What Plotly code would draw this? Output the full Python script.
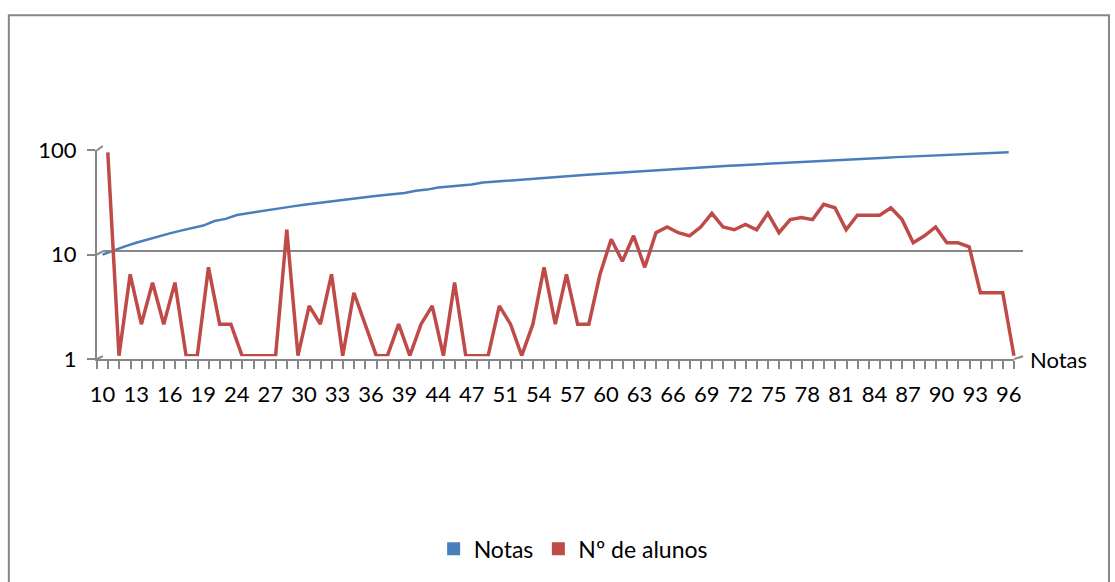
import plotly.graph_objects as go

# ---------------- data ----------------
notas = [10, 11, 12, 13, 14, 15, 16, 17, 18, 19, 21, 22, 24, 25, 26, 27, 28, 29,
         30, 31, 32, 33, 34, 35, 36, 37, 38, 39, 41, 42, 44, 45, 46, 47, 49, 50,
         51, 52, 53, 54, 55, 56, 57, 58, 59, 60, 61, 62, 63, 64, 65, 66, 67, 68,
         69, 70, 71, 72, 73, 74, 75, 76, 77, 78, 79, 80, 81, 82, 83, 84, 85, 86,
         87, 88, 89, 90, 91, 92, 93, 94, 95, 96]
alunos = [88, 1, 6, 2, 5, 2, 5, 1, 1, 7, 2, 2, 1, 1, 1, 1, 16, 1,
          3, 2, 6, 1, 4, 2, 1, 1, 2, 1, 2, 3, 1, 5, 1, 1, 1, 3,
          2, 1, 2, 7, 2, 6, 2, 2, 6, 13, 8, 14, 7, 15, 17, 15, 14, 17,
          23, 17, 16, 18, 16, 23, 15, 20, 21, 20, 28, 26, 16, 22, 22, 22, 26, 20,
          12, 14, 17, 12, 12, 11, 4, 4, 4, 1]
shown_x_labels = ["10", "13", "16", "19", "24", "27", "30", "33", "36", "39", "44",
                  "47", "51", "54", "57", "60", "63", "66", "69", "72", "75", "78",
                  "81", "84", "87", "90", "93", "96"]
y_ticks = [1, 10, 100]
y_tick_labels = ["1", "10", "100"]

categories = [str(n) for n in notas]
ticktext = [c if c in shown_x_labels else "" for c in categories]
n = len(categories)

# ---------------- style ----------------
BLUE = "#4A7EBB"
RED = "#BE4B48"
GRAY = "#878787"
FONT = dict(family="Lato, 'Open Sans', sans-serif", size=22, color="#000000")
LEG_FONT = dict(family="Lato, 'Open Sans', sans-serif", size=23, color="#000000")

W, H = 1115, 582
L, R = 96.7, 1023.0          # pixel extent of the paper area
T, B = 145.7, 359.5
pw, ph = R - L, B - T


def px2x(px):
    return (px - L) / pw


def py2y(py):
    return (B - py) / ph


fig = go.Figure()

# red series (back row of the 3-D chart)
fig.add_trace(go.Scatter(x=categories, y=alunos, xaxis="x2", yaxis="y",
                         mode="lines", line=dict(color=RED, width=3.5),
                         name="Nº de alunos", showlegend=False))
# blue series (front row)
fig.add_trace(go.Scatter(x=categories, y=notas, xaxis="x", yaxis="y2",
                         mode="lines", line=dict(color=BLUE, width=2.5),
                         name="Notas", showlegend=False))
# legend entries (square keys)
fig.add_trace(go.Scatter(x=[None], y=[None], xaxis="x", yaxis="y2", mode="markers",
                         marker=dict(symbol="square", size=13, color=BLUE), name="Notas"))
fig.add_trace(go.Scatter(x=[None], y=[None], xaxis="x", yaxis="y2", mode="markers",
                         marker=dict(symbol="square", size=13, color=RED), name="Nº de alunos"))

shapes = []
# wall corner diagonals
for v, lv in ((1, 0), (10, 1), (100, 2)):
    fy = B - 104.75 * lv
    by = 356.7 - 105.5 * lv
    shapes.append(dict(type="line", xref="paper", yref="paper",
                       x0=px2x(96.7), y0=py2y(fy), x1=px2x(102.5), y1=py2y(by),
                       line=dict(color=GRAY, width=2)))
shapes.append(dict(type="line", xref="paper", yref="paper",
                   x0=px2x(1014.3), y0=py2y(359.5), x1=px2x(1023), y1=py2y(356.7),
                   line=dict(color=GRAY, width=2)))
# chart border
shapes.append(dict(type="rect", xref="paper", yref="paper",
                   x0=px2x(8.5), y0=py2y(600), x1=px2x(1109), y1=py2y(14.5),
                   line=dict(color=GRAY, width=2), fillcolor="rgba(0,0,0,0)"))

fig.update_layout(
    width=W, height=H,
    margin=dict(l=L, r=W - R, t=T, b=H - B, autoexpand=False),
    paper_bgcolor="white", plot_bgcolor="rgba(0,0,0,0)",
    font=FONT,
    xaxis=dict(domain=[0, px2x(1014.3)], anchor="y2", type="category",
               categoryorder="array", categoryarray=categories,
               range=[-0.5, n - 0.5], tickmode="array", tickvals=categories,
               ticktext=ticktext, tickson="boundaries", ticks="outside",
               ticklen=8, tickwidth=2, tickcolor=GRAY, showline=True,
               linecolor=GRAY, linewidth=2, showgrid=False, zeroline=False,
               tickangle=0, tickfont=FONT, ticklabelstandoff=15),
    xaxis2=dict(domain=[px2x(102.5), 1], anchor="y", type="category",
                categoryorder="array", categoryarray=categories,
                range=[-0.447, n - 0.19], visible=False),
    yaxis=dict(domain=[py2y(356.7), 1], anchor="x2", type="log",
               range=[-0.005, 2.005], tickmode="array", tickvals=y_ticks,
               showticklabels=False, ticks="", showgrid=True, gridcolor=GRAY,
               gridwidth=2, showline=False, zeroline=False),
    yaxis2=dict(domain=[0, py2y(150)], anchor="x", type="log", range=[0, 2],
                tickmode="array", tickvals=y_ticks, ticktext=y_tick_labels,
                ticks="outside", ticklen=8, tickwidth=2, tickcolor=GRAY,
                showline=True, linecolor=GRAY, linewidth=2, showgrid=False,
                zeroline=False, tickfont=FONT, ticklabelstandoff=6),
    legend=dict(orientation="h", x=px2x(573), xanchor="center",
                y=py2y(550), yanchor="middle", font=LEG_FONT,
                bgcolor="rgba(0,0,0,0)"),
    shapes=shapes,
    annotations=[dict(text="Notas", xref="paper", yref="paper",
                      x=px2x(1028), y=py2y(360), xanchor="left", yanchor="middle",
                      showarrow=False, font=FONT)],
)

fig.write_html("out.html",
               config={"displayModeBar": False},
               post_script="document.body.style.margin='0';"
                           "document.body.style.overflow='hidden';")
